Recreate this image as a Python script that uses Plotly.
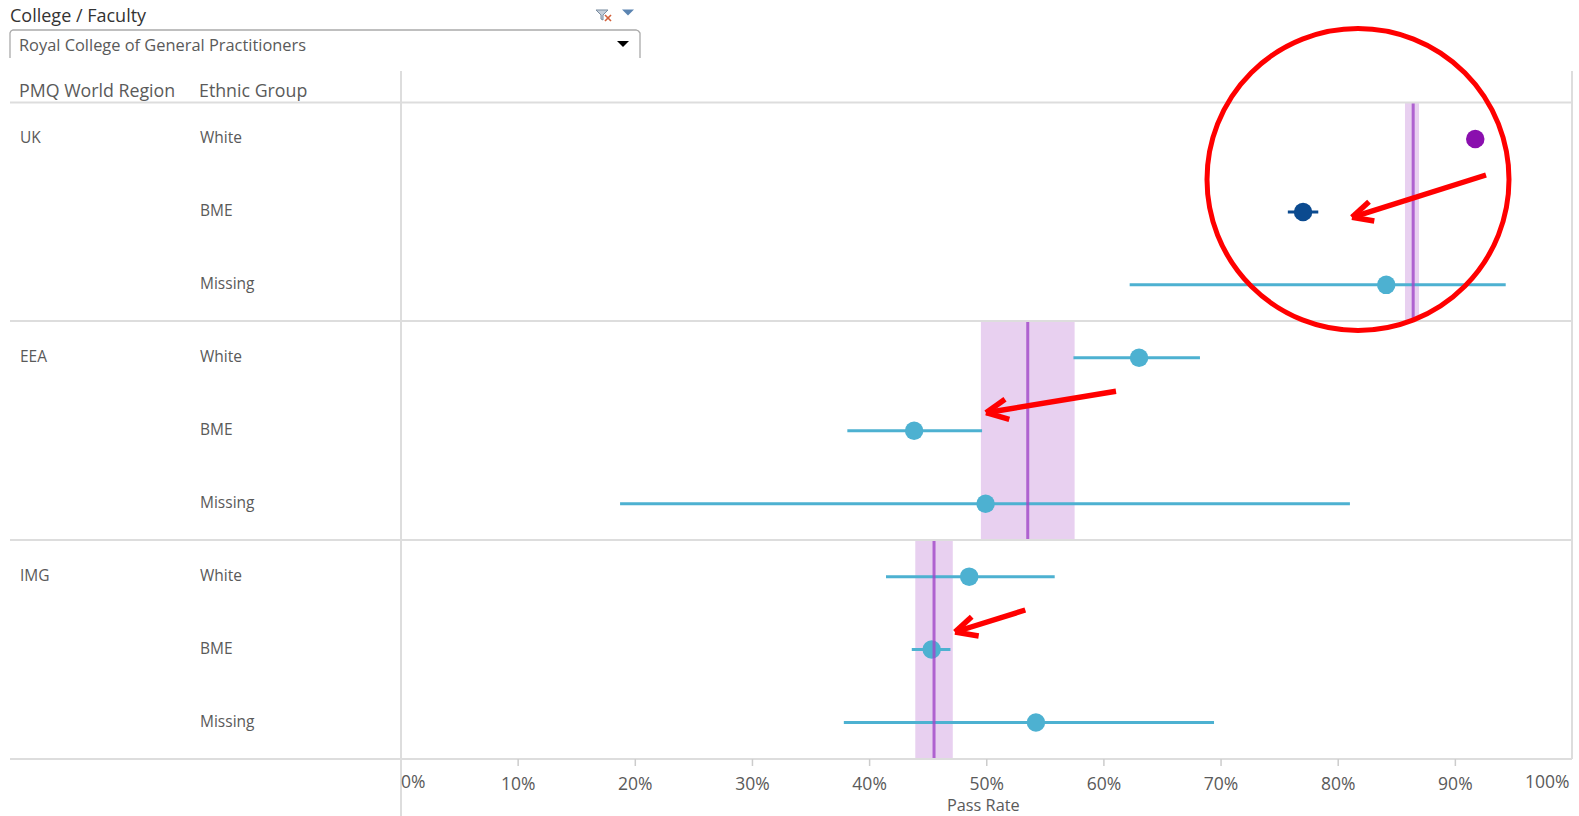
import plotly.graph_objects as go

W, H = 1579, 816
regions = ["UK", "EEA", "IMG"]
ethnic_groups = ["White", "BME", "Missing"]
tick_values = [0, 10, 20, 30, 40, 50, 60, 70, 80, 90, 100]

# One value per row: UK White ... IMG Missing
pass_rate = [91.7, 77.0, 84.1, 63.0, 43.8, 49.9, 48.5, 45.3, 54.2]
ci_low = [91.7, 75.7, 62.2, 57.4, 38.1, 18.7, 41.4, 43.6, 37.8]
ci_high = [91.7, 78.3, 94.3, 68.2, 49.6, 81.0, 55.8, 46.9, 69.4]
status = ["high", "low", "mid", "mid", "mid", "mid", "mid", "mid", "mid"]

# One value per region
region_mean = [86.4, 53.5, 45.5]
region_low = [85.7, 49.5, 43.9]
region_high = [86.9, 57.5, 47.1]

status_colors = {"high": "#8A0FAE", "low": "#0B4A8F", "mid": "#4DB1D1"}
GRID = "#DDDDDD"
TEXT = "#5A5A5A"
FONT = "Open Sans, Noto Sans, sans-serif"


def px(x):
    return x / W


def py(y):
    return 1 - y / H


fig = go.Figure()
rows = list(range(len(pass_rate)))
for key, col in status_colors.items():
    idx = [i for i in rows if status[i] == key]
    fig.add_trace(go.Scatter(
        x=[pass_rate[i] for i in idx],
        y=[rows[i] for i in idx],
        mode="markers",
        marker=dict(color=col, size=18.5, line=dict(width=0)),
        error_x=dict(
            type="data", symmetric=False,
            array=[ci_high[i] - pass_rate[i] for i in idx],
            arrayminus=[pass_rate[i] - ci_low[i] for i in idx],
            color=col, thickness=3, width=0,
        ),
        showlegend=False,
    ))

shapes = []
# region confidence bands and means
for g in range(len(regions)):
    y0, y1 = g * 3 - 0.5, g * 3 + 2.5
    shapes.append(dict(type="rect", xref="x", yref="y", x0=region_low[g], x1=region_high[g],
                       y0=y0, y1=y1, line_width=0, fillcolor="#E8D0F0", layer="below"))
    shapes.append(dict(type="line", xref="x", yref="y", x0=region_mean[g], x1=region_mean[g],
                       y0=y0, y1=y1, line=dict(color="rgba(160,70,200,0.8)", width=3), layer="above"))


def pline(x0, y0, x1, y1, color=GRID, width=2):
    shapes.append(dict(type="line", xref="paper", yref="paper", x0=px(x0), x1=px(x1),
                       y0=py(y0), y1=py(y1), line=dict(color=color, width=width), layer="above"))


# table rules
for yy in [102.5, 321, 540, 759]:
    pline(10, yy, 1572, yy)
pline(401, 71, 401, 816)
pline(1572, 71, 1572, 759)

# red call-outs
RED = "#FF0000"
shapes.append(dict(type="circle", xref="paper", yref="paper", x0=px(1207), x1=px(1509),
                   y0=py(330.5), y1=py(28.5), line=dict(color=RED, width=5), layer="above"))
callouts = [
    ((1486, 175), (1352, 217.3), (1369, 201.7), (1374.3, 221)),
    ((1116, 391.3), (986, 412.7), (1005, 399.3), (1009.3, 419.3)),
    ((1025.3, 610), (955, 632), (971.7, 616.7), (978.7, 636)),
]
for tail, tip, b1, b2 in callouts:
    pline(tail[0], tail[1], tip[0], tip[1], RED, 5.5)
    pline(b1[0], b1[1], tip[0], tip[1], RED, 5.5)
    pline(b2[0], b2[1], tip[0], tip[1], RED, 5.5)


def ppath(points, fill=None, color=None, width=0):
    d = "M " + " L ".join(f"{px(a):.5f},{py(b):.5f}" for a, b in points)
    if fill:
        d += " Z"
    shapes.append(dict(type="path", xref="paper", yref="paper", path=d,
                       fillcolor=fill, line=dict(color=color or "rgba(0,0,0,0)", width=width), layer="above"))


# drop-down box (open at the bottom)
ppath([(10, 58), (10, 33), (11, 31), (13, 30), (636, 30), (638.5, 31), (640, 33), (640, 58)],
      color="#AAAAAA", width=1.3)
ppath([(617, 41), (629, 41), (623, 47)], fill="#000000")
ppath([(622, 9.5), (634, 9.5), (628, 15.5)], fill="#5B84B1")
# filter icon
ppath([(596, 10), (608, 10), (603, 15), (603, 20), (601, 19), (601, 15)], fill="#C5CFDA", color="#7A8CA0", width=1)
pline(605, 15, 611, 21, "#D2603A", 1.6)
pline(611, 15, 605, 21, "#D2603A", 1.6)
# ticks below the axis
for t in tick_values[1:-1]:
    shapes.append(dict(type="line", xref="x", yref="paper", x0=t, x1=t, y0=py(759), y1=py(766),
                       line=dict(color="#CCCCCC", width=1.5), layer="above"))

ann = []


def label(text, x, y, size=14, color=TEXT, anchor="left"):
    ann.append(dict(text=text, x=px(x), y=py(y), xref="paper", yref="paper", showarrow=False,
                    xanchor=anchor, yanchor="middle", font=dict(size=size, color=color, family=FONT),
                    borderpad=0))


label("College / Faculty", 8.5, 14.5, 18, "#333333")
label("Royal College of General Practitioners", 18, 44.5, 16.4)
label("PMQ World Region", 18, 90, 17.8)
label("Ethnic Group", 197.5, 90, 17.8)
label("Pass Rate", 983.5, 805, 16.3, anchor="center")

for g, region in enumerate(regions):
    ann.append(dict(text=region, x=px(17.5), y=g * 3, xref="paper", yref="y", showarrow=False, yshift=1.5,
                    xanchor="left", yanchor="middle", font=dict(size=15.5, color=TEXT, family=FONT)))
for i in rows:
    ann.append(dict(text=ethnic_groups[i % 3], x=px(197.5), y=i, xref="paper", yref="y", showarrow=False, yshift=1.5,
                    xanchor="left", yanchor="middle", font=dict(size=15.5, color=TEXT, family=FONT)))
# end tick labels stay inside the plot
ann.append(dict(text=f"{tick_values[0]}%", x=tick_values[0], y=py(781), xref="x", yref="paper", showarrow=False,
                xanchor="left", yanchor="middle", xshift=-2, font=dict(size=17.5, color=TEXT, family=FONT)))
ann.append(dict(text=f"{tick_values[-1]}%", x=tick_values[-1], y=py(781), xref="x", yref="paper", showarrow=False,
                xanchor="right", yanchor="middle", xshift=-1, font=dict(size=17.5, color=TEXT, family=FONT)))

fig.update_layout(
    width=W, height=H, autosize=False,
    margin=dict(l=0, r=0, t=0, b=0),
    paper_bgcolor="white", plot_bgcolor="white",
    showlegend=False, shapes=shapes, annotations=ann,
    xaxis=dict(
        domain=[px(401), px(1572.5)], range=[0, 100], showgrid=False, zeroline=False, showline=False,
        tickmode="array", tickvals=tick_values[1:-1], ticktext=[f"{t}%" for t in tick_values[1:-1]],
        ticks="outside", ticklen=9, tickcolor="rgba(0,0,0,0)", tickwidth=0,
        tickfont=dict(size=17.5, color=TEXT, family=FONT), anchor="y",
    ),
    yaxis=dict(
        domain=[py(759), py(102.5)], range=[8.5, -0.5], showgrid=False, zeroline=False,
        showline=False, showticklabels=False, ticks="",
    ),
)
fig.write_html(
    "out.html",
    config={"displayModeBar": False},
    post_script="document.body.style.margin='0';document.body.style.overflow='hidden';",
)
